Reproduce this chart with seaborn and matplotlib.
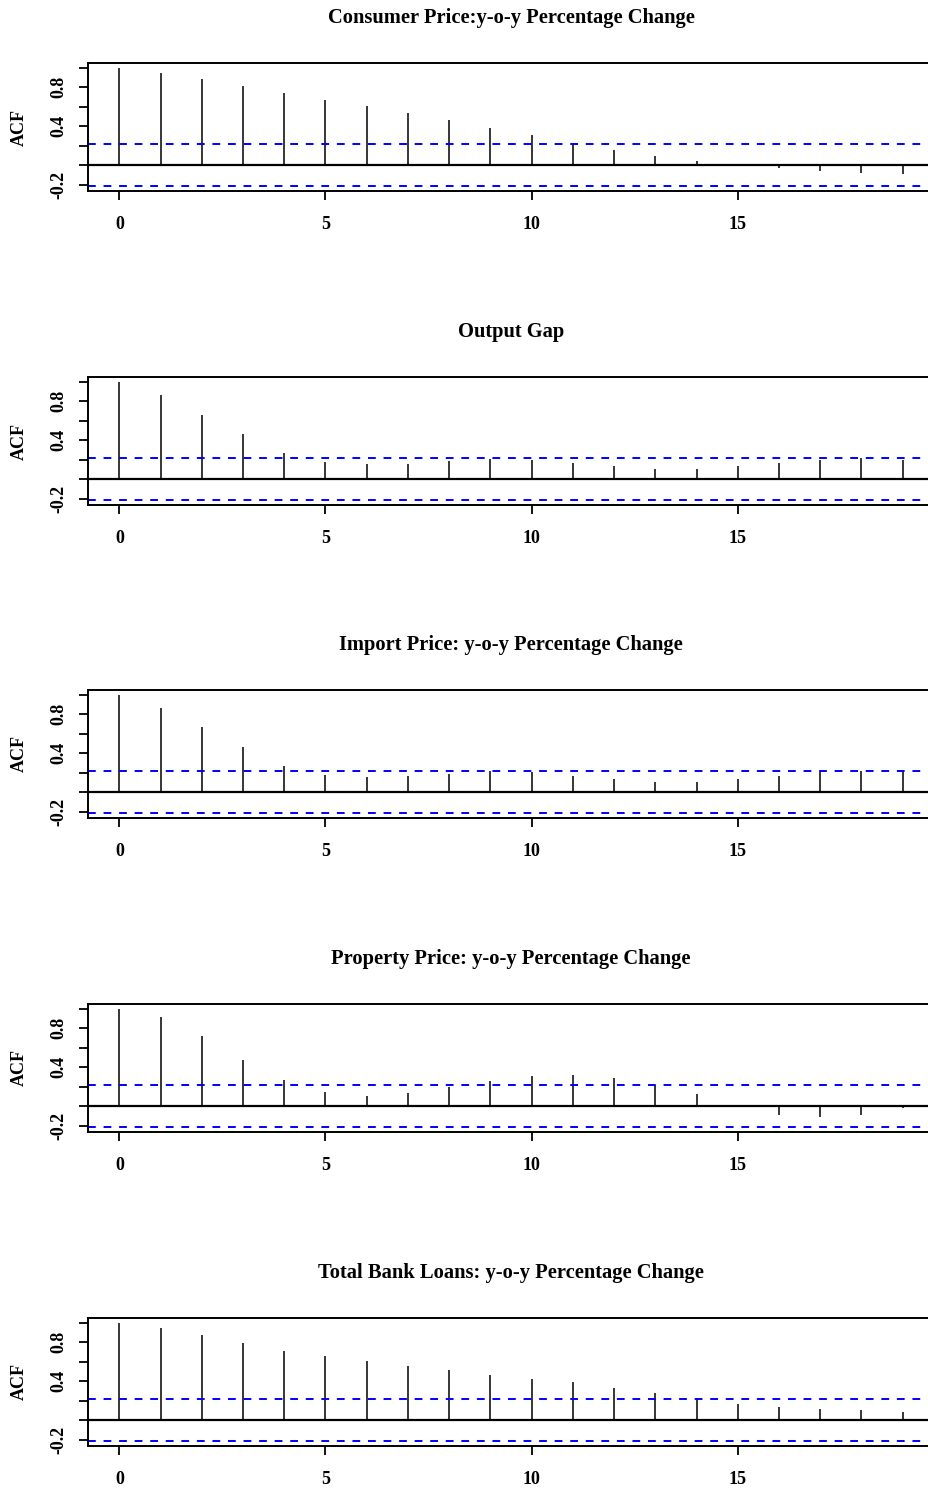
import numpy as np
import pandas as pd
import matplotlib
matplotlib.use("Agg")
import matplotlib.pyplot as plt
import seaborn as sns

titles = [
    "Consumer Price:y-o-y Percentage Change",
    "Output Gap",
    "Import Price: y-o-y Percentage Change",
    "Property Price: y-o-y Percentage Change",
    "Total Bank Loans: y-o-y Percentage Change",
]
lags = list(range(20))
acf_cpi = [1.0, 0.944, 0.880, 0.813, 0.742, 0.671, 0.607, 0.540, 0.465, 0.384,
           0.310, 0.229, 0.162, 0.101, 0.044, 0.005, -0.030, -0.060, -0.074, -0.088]
acf_gap = [1.0, 0.864, 0.661, 0.461, 0.268, 0.180, 0.156, 0.159, 0.186, 0.210,
           0.197, 0.166, 0.136, 0.102, 0.102, 0.136, 0.166, 0.197, 0.217, 0.197]
acf_imp = [1.0, 0.864, 0.668, 0.461, 0.271, 0.180, 0.153, 0.163, 0.186, 0.214,
           0.207, 0.166, 0.136, 0.102, 0.102, 0.136, 0.166, 0.207, 0.220, 0.207]
acf_prop = [1.0, 0.911, 0.720, 0.478, 0.266, 0.143, 0.102, 0.137, 0.195, 0.263,
            0.307, 0.321, 0.294, 0.222, 0.123, -0.002, -0.085, -0.113, -0.092, -0.020]
acf_loan = [1.0, 0.949, 0.878, 0.793, 0.715, 0.664, 0.610, 0.556, 0.512, 0.464,
            0.427, 0.390, 0.336, 0.278, 0.224, 0.169, 0.136, 0.115, 0.102, 0.085]
series = [acf_cpi, acf_gap, acf_imp, acf_prop, acf_loan]
ci = 0.214
x_ticks = [0, 5, 10, 15]
y_ticks = [-0.2, 0.0, 0.2, 0.4, 0.6, 0.8, 1.0]
y_ticklabels = ["-0.2", "", "", "0.4", "", "0.8", ""]

sns.set_style("ticks")
plt.rcParams["font.family"] = ["Liberation Serif", "DejaVu Serif"]
plt.rcParams["font.weight"] = "bold"
plt.rcParams["text.color"] = "black"
plt.rcParams["axes.labelcolor"] = "black"
plt.rcParams["xtick.color"] = "black"
plt.rcParams["ytick.color"] = "black"

W, H = 929, 1490
fig = plt.figure(figsize=(W / 100, H / 100), dpi=100)
tops = [63, 377, 690, 1004, 1318]
left_px, right_px, h_px = 88, 934, 128

for top, title, vals in zip(tops, titles, series):
    ax = fig.add_axes([left_px / W, 1 - (top + h_px) / H, (right_px - left_px) / W, h_px / H])
    df = pd.DataFrame({"lag": lags, "acf": vals})
    ax.vlines(df["lag"], 0, df["acf"], color="black", linewidth=1.1)
    ax.axhline(0, color="black", linewidth=1.6)
    ax.axhline(ci, color="#0000ff", linewidth=1.4, linestyle=(0, (4, 4)))
    ax.axhline(-ci, color="#0000ff", linewidth=1.4, linestyle=(0, (4, 4)))
    ax.set_xlim(-0.76, 19.76)
    ax.set_ylim(-0.2626, 1.0486)
    ax.set_xticks(x_ticks)
    ax.set_xticklabels([str(t) for t in x_ticks], fontsize=13, fontweight="bold", color="black")
    ax.set_yticks(y_ticks)
    ax.set_yticklabels(y_ticklabels, fontsize=13, fontweight="bold", rotation=90,
                       va="center", color="black")
    ax.tick_params(axis="both", direction="out", length=6.5, width=1.3, color="black")
    ax.tick_params(axis="x", pad=11.8)
    ax.tick_params(axis="y", pad=8.2)
    for s in ax.spines.values():
        s.set_visible(True)
        s.set_linewidth(1.4)
        s.set_color("black")
    ax.set_ylabel("ACF", fontsize=13, fontweight="bold", labelpad=16.5, color="black")
    ax.set_xlabel("")
    ax.set_title(title, fontsize=14.8, fontweight="bold", pad=28.5, color="black")
    ax.set_facecolor("white")

fig.savefig("out.png", dpi=100, facecolor="white")
